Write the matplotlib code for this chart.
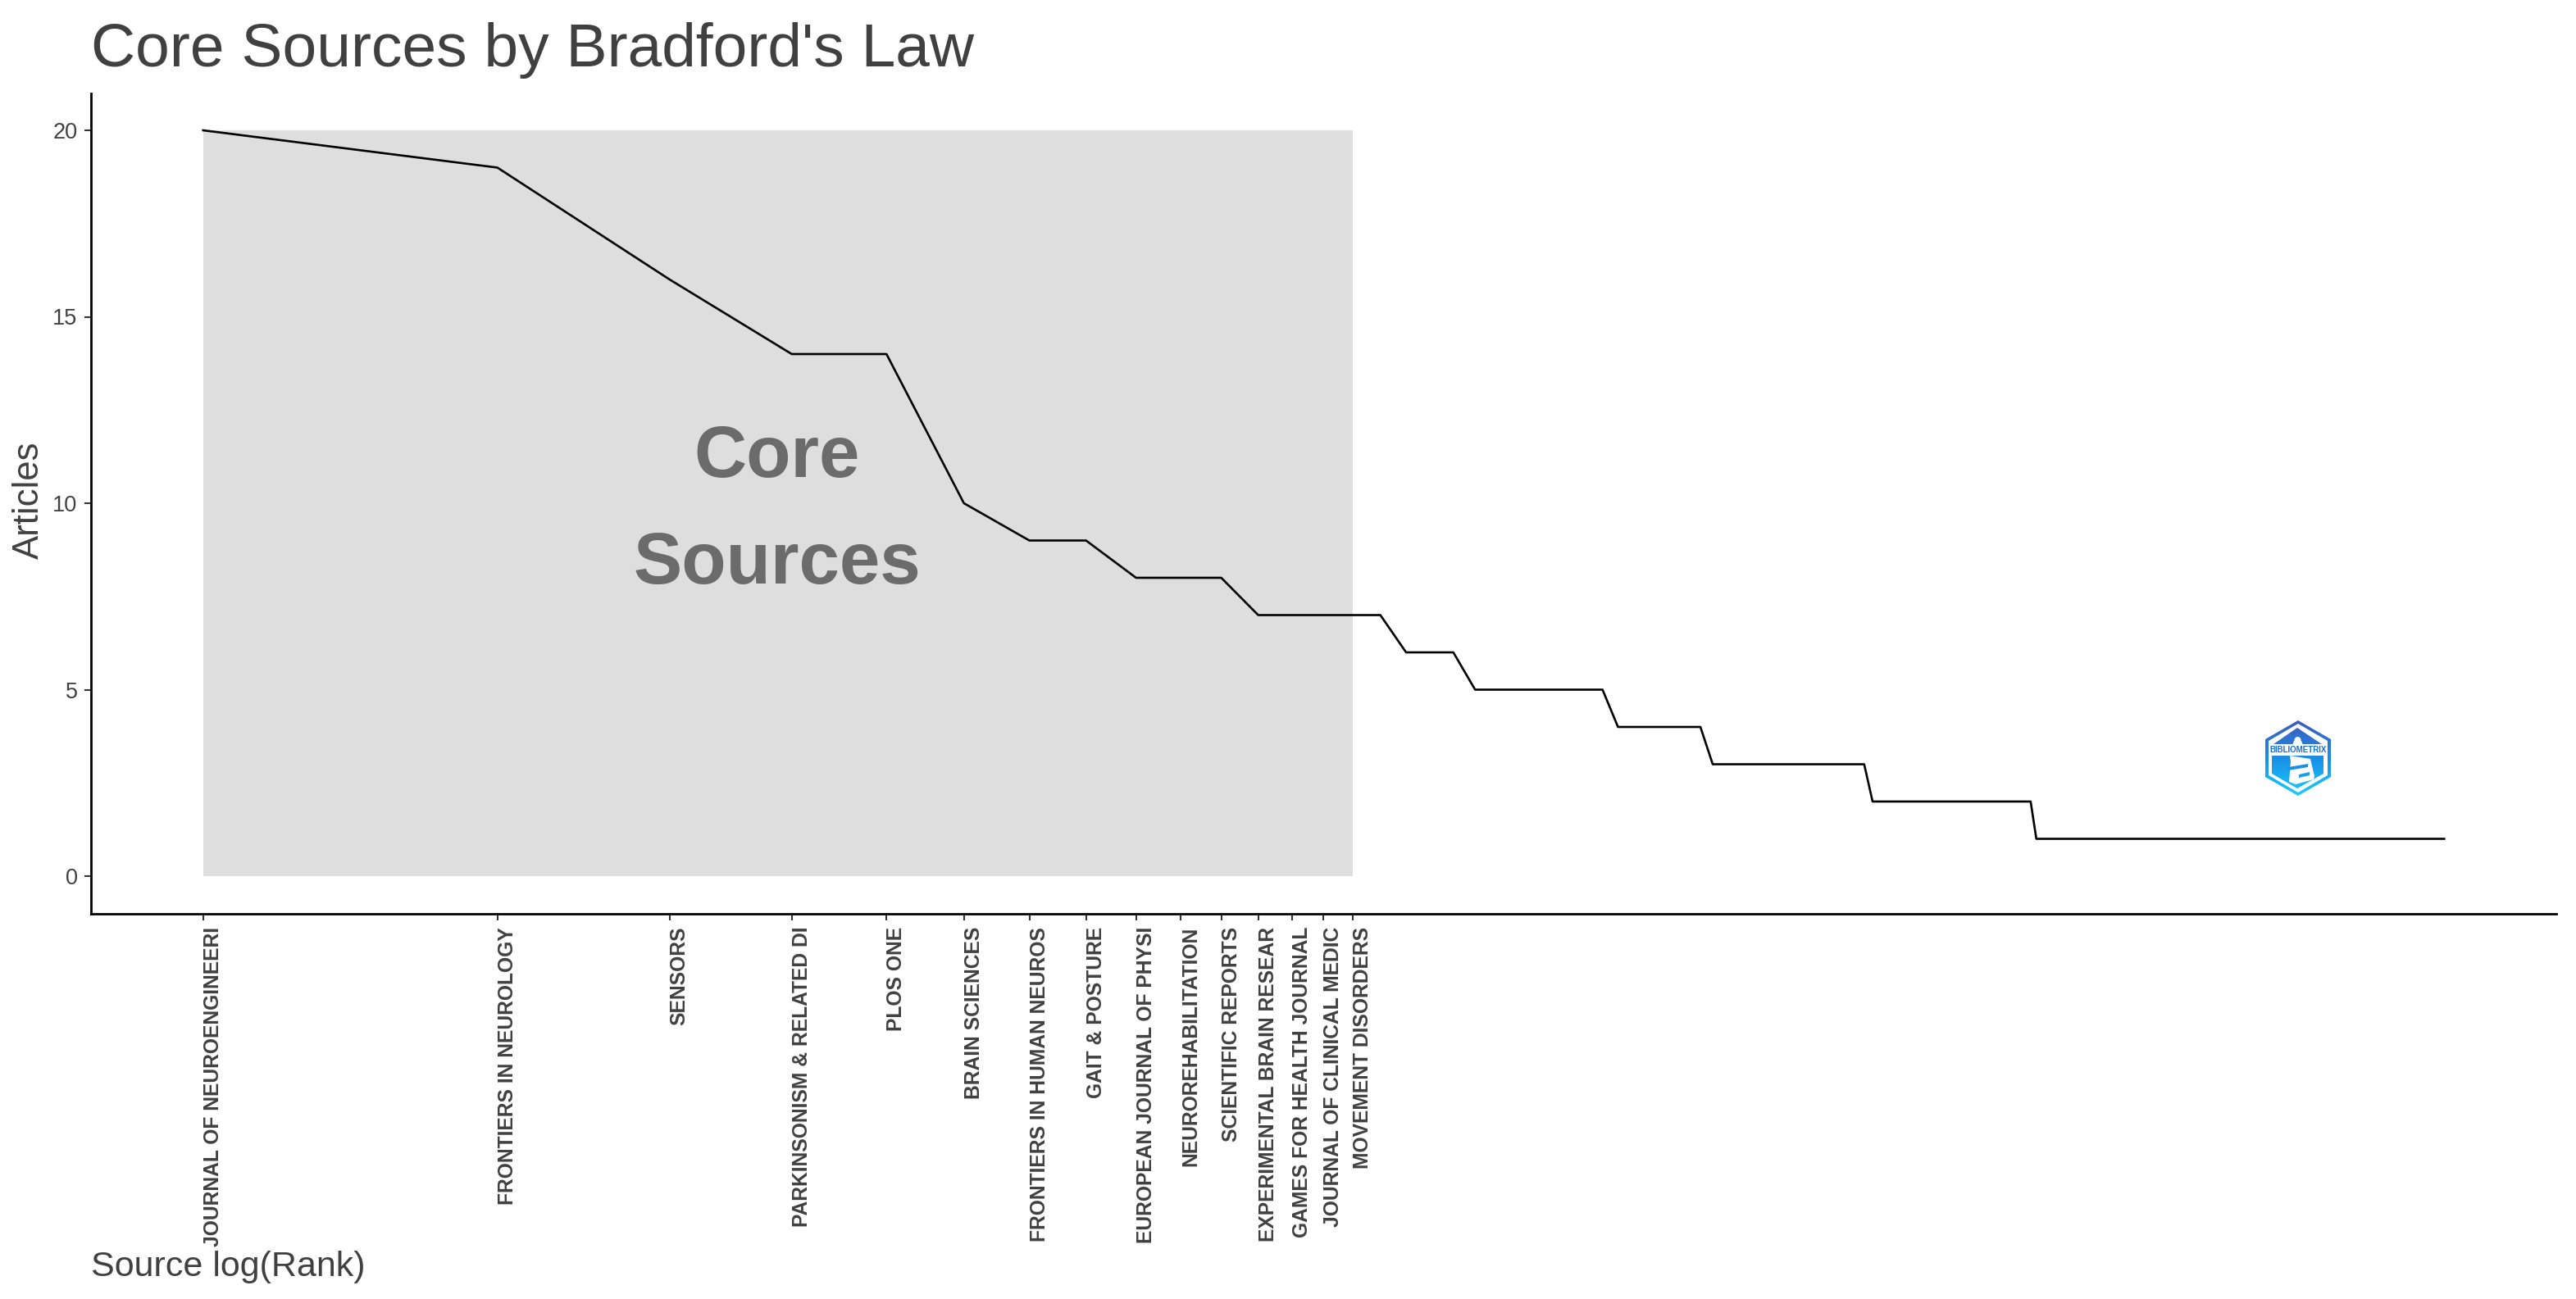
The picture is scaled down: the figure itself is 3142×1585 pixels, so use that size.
import numpy as np
import matplotlib
matplotlib.use('Agg')
import matplotlib.pyplot as plt
from matplotlib.patches import Polygon, Circle

plt.rcParams['font.family'] = ['Liberation Sans', 'DejaVu Sans']

# Data
sources = ['JOURNAL OF NEUROENGINEERI', 'FRONTIERS IN NEUROLOGY', 'SENSORS',
           'PARKINSONISM & RELATED DI', 'PLOS ONE', 'BRAIN SCIENCES',
           'FRONTIERS IN HUMAN NEUROS', 'GAIT & POSTURE', 'EUROPEAN JOURNAL OF PHYSI',
           'NEUROREHABILITATION', 'SCIENTIFIC REPORTS', 'EXPERIMENTAL BRAIN RESEAR',
           'GAMES FOR HEALTH JOURNAL', 'JOURNAL OF CLINICAL MEDIC', 'MOVEMENT DISORDERS']
ranks = [1, 2, 3, 4, 5, 6, 7, 8, 9, 10, 11, 12, 13, 14, 15, 16,
         17, 19, 20, 27, 28, 34, 35, 50, 51, 74, 75, 196]
articles = [20, 19, 16, 14, 14, 10, 9, 9, 8, 8, 8, 7, 7, 7, 7, 7,
            6, 6, 5, 5, 4, 4, 3, 3, 2, 2, 1, 1]
n_core = 15
y_ticks = [0, 5, 10, 15, 20]

W, H = 3142, 1585
fig = plt.figure(figsize=(W / 100, H / 100), dpi=100)
ax = fig.add_axes([111 / W, 1 - 1114.5 / H, (3118 - 111) / W, (1114.5 - 113.5) / H])

x = np.log(ranks)
ax.fill_between(x[:n_core], 0, max(articles), color='#dedede', lw=0)
ax.plot(x, articles, color='black', lw=1.9)
ax.text(1.352, 11.2, 'Core', fontsize=64, fontweight='bold', color='#6b6b6b',
        ha='center', va='center')
ax.text(1.352, 8.35, 'Sources', fontsize=64, fontweight='bold', color='#6b6b6b',
        ha='center', va='center')

ax.set_xlim(-0.264, x[-1] + 0.264)
ax.set_ylim(-1, 21)
ax.set_xticks(x[:n_core], sources, rotation=90, ha='left', va='top',
              fontsize=17.7, fontweight='bold', color='#404040')
ax.set_yticks(y_ticks, y_ticks, fontsize=19.5, color='#404040')
ax.tick_params(axis='both', length=5.8, width=1.5, color='#333333')
ax.tick_params(axis='x', pad=6)
ax.tick_params(axis='y', pad=6)
for side in ['top', 'right']:
    ax.spines[side].set_visible(False)
for side in ['left', 'bottom']:
    ax.spines[side].set_linewidth(2)

fig.text(111 / W, 1 - 61 / H, "Core Sources by Bradford's Law", fontsize=54, color='#404040',
         ha='left', va='center')
fig.text(35 / W, 1 - 610 / H, 'Articles', fontsize=31.5, color='#404040', rotation=90,
         ha='center', va='center')
fig.text(111 / W, 1 - 1546 / H, 'Source log(Rank)', fontsize=31, color='#404040',
         ha='left', va='center')

# Bibliometrix logo, built from hexagons in its own little axes
lg = fig.add_axes([2763 / W, 1 - 971 / H, 80 / W, 92 / H])
lg.axis('off')
grad = np.linspace(0, 1, 92)[:, None, None]
top = np.array([0.25, 0.35, 0.74])
mid = np.array([0.10, 0.56, 0.90])
bot = np.array([0.10, 0.80, 0.98])
img = np.where(grad < 0.5, top + (mid - top) * grad * 2, mid + (bot - mid) * (grad - 0.5) * 2)
img = np.repeat(img, 80, axis=1)


def grad_poly(pts, z):
    im = lg.imshow(img, extent=(0, 80, 92, 0), aspect='auto', zorder=z)
    p = Polygon(pts, closed=True, fc='none', ec='none', transform=lg.transData)
    lg.add_patch(p)
    im.set_clip_path(p)


grad_poly([(40, 0), (80, 23), (80, 69), (40, 92), (0, 69), (0, 23)], 1)
lg.add_patch(Polygon([(40, 4), (76, 25), (76, 67), (40, 88), (4, 67), (4, 25)], fc='white', ec='none', zorder=2))
grad_poly([(39, 9), (69, 29), (10, 29)], 3)
grad_poly([(8, 43), (71, 43), (71, 65), (39, 83), (8, 65)], 3)
# lighthouse
lg.add_patch(Circle((39.5, 24), 4, fc='white', ec='none', zorder=4))
lg.add_patch(Polygon([(35, 25), (44, 25), (46, 30), (33, 30)], fc='white', ec='none', zorder=4))
lg.add_patch(Polygon([(30, 43), (55, 47), (60, 68), (59, 72), (37, 78), (29, 75), (31, 50)],
                     fc='white', ec='none', zorder=4))
lg.add_patch(Polygon([(28, 57), (52, 53), (52, 57), (28, 61)], fc='#1a8fe6', ec='none', zorder=5))
lg.add_patch(Polygon([(41, 66), (54, 63), (54, 67), (41, 70)], fc='#1a9fea', ec='none', zorder=5))
lg.text(40, 35.5, 'BIBLIOMETRIX', fontsize=7, fontweight='bold', color='#1470d8', ha='center', va='center',
        zorder=6)
lg.set_xlim(0, 80)
lg.set_ylim(92, 0)

fig.savefig('out.png', dpi=100)
